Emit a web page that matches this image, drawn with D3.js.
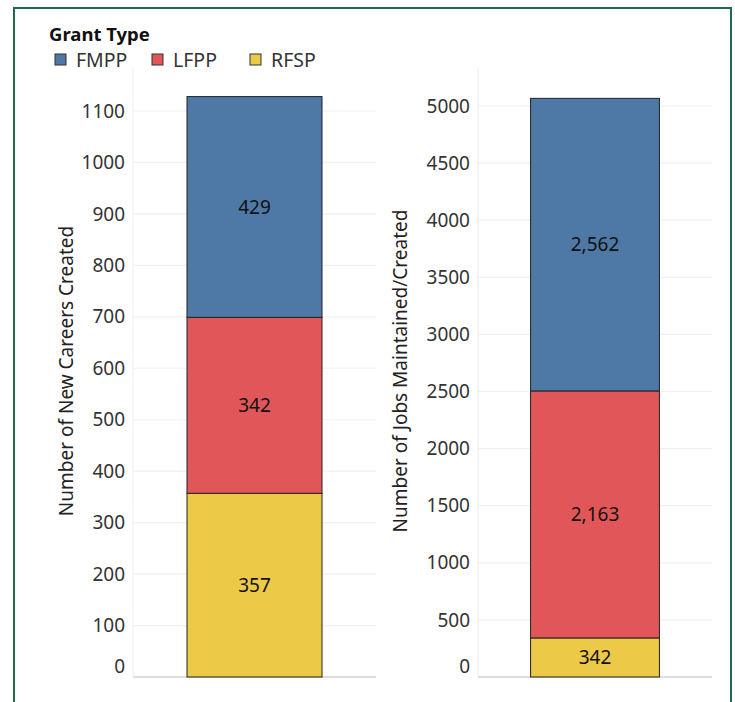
<!DOCTYPE html>
<html>
<head>
<meta charset="utf-8">
<script src="https://cdn.jsdelivr.net/npm/d3@7"></script>
<style>
  body { margin: 0; background: #fff; }
  svg text { font-family: "Noto Sans", "Open Sans", sans-serif; }
</style>
</head>
<body>
<div id="chart"></div>
<script>
// --- data ---
const grantTypes = ["FMPP", "LFPP", "RFSP"];
const colors     = ["#4e79a7", "#e15759", "#edc948"];
const careers    = [429, 342, 357];     // new careers created
const jobs       = [2562, 2163, 342];   // jobs maintained/created
const careerTicks = d3.range(0, 1101, 100);
const jobTicks    = d3.range(0, 5001, 500);

const W = 735, H = 702;
const svg = d3.select("#chart").append("svg")
  .attr("width", W).attr("height", H);

// frame (open at the bottom, as in the screenshot)
svg.append("path")
  .attr("d", `M14,${H + 5} L14,8 L731,8 L731,${H + 5}`)
  .attr("fill", "none")
  .attr("stroke", "#1f6b4e")
  .attr("stroke-width", 2);

// --- legend ---
svg.append("text")
  .attr("x", 49).attr("y", 41)
  .style("font-size", "18.5px").style("font-weight", "bold")
  .attr("fill", "#111")
  .text("Grant Type");

const legX = [55, 152, 250];
grantTypes.forEach((g, i) => {
  svg.append("rect")
    .attr("x", legX[i]).attr("y", 54)
    .attr("width", 11).attr("height", 11)
    .attr("fill", colors[i])
    .attr("stroke", "#333").attr("stroke-width", 1);
  svg.append("text")
    .attr("x", legX[i] + 21).attr("y", 66.5)
    .style("font-size", "19.5px")
    .attr("fill", "#333")
    .text(g);
});

// --- one stacked bar panel ---
function panel(values, ticks, opts) {
  const y = d3.scaleLinear().domain(opts.domain).range([677, opts.top]);
  const x = d3.scaleBand().domain(["all"]).range([opts.x0, opts.x1])
    .paddingInner(0).paddingOuter(opts.pad);
  const g = svg.append("g");

  // gridlines
  g.selectAll(".grid").data(ticks).enter().append("line")
    .attr("x1", opts.x0).attr("x2", opts.x1)
    .attr("y1", d => y(d)).attr("y2", d => y(d))
    .attr("stroke", d => d === 0 ? "#ddd" : "#f0f0f0")
    .attr("stroke-width", d => d === 0 ? 2 : 1.2);

  // axis line
  g.append("line")
    .attr("x1", opts.x0).attr("x2", opts.x0)
    .attr("y1", 67).attr("y2", 677)
    .attr("stroke", "#f0f0f0").attr("stroke-width", 1.2);

  // tick labels (0 nudged up so it stays in view, tableau style)
  g.selectAll(".tick").data(ticks).enter().append("text")
    .attr("x", opts.x0 - 8)
    .attr("y", d => d === 0 ? y(d) - 11 : y(d))
    .attr("dy", "0.35em")
    .attr("text-anchor", "end")
    .style("font-size", "19px")
    .attr("fill", "#333")
    .text(d => d);

  // axis title
  g.append("text")
    .attr("transform", `translate(${opts.titleX},${opts.titleY}) rotate(-90)`)
    .attr("text-anchor", "middle")
    .attr("dy", "0.35em")
    .style("font-size", "19px")
    .attr("fill", "#222")
    .text(opts.title);

  // stack bottom-up: RFSP, LFPP, FMPP
  const order = [2, 1, 0];
  let base = 0;
  const segs = order.map(i => {
    const s = { i, y0: base, y1: base + values[i] };
    base += values[i];
    return s;
  });

  g.selectAll(".seg").data(segs).enter().append("rect")
    .attr("x", x("all"))
    .attr("width", x.bandwidth())
    .attr("y", d => y(d.y1))
    .attr("height", d => y(d.y0) - y(d.y1))
    .attr("fill", d => colors[d.i])
    .attr("stroke", "#222").attr("stroke-width", 1);

  g.selectAll(".lab").data(segs).enter().append("text")
    .attr("x", x("all") + x.bandwidth() / 2)
    .attr("y", d => y((d.y0 + d.y1) / 2))
    .attr("dy", "0.35em")
    .attr("text-anchor", "middle")
    .style("font-size", "19px")
    .attr("fill", "#111")
    .text(d => d3.format(",")(values[d.i]));
}

panel(careers, careerTicks, {
  domain: [0, 1100], top: 111, x0: 133, x1: 376, pad: 0.4,
  titleX: 66, titleY: 371,
  title: "Number of New Careers Created"
});

panel(jobs, jobTicks, {
  domain: [0, 5000], top: 106, x0: 478, x1: 712, pad: 0.408,
  titleX: 400, titleY: 371,
  title: "Number of Jobs Maintained/Created"
});
</script>
</body>
</html>
